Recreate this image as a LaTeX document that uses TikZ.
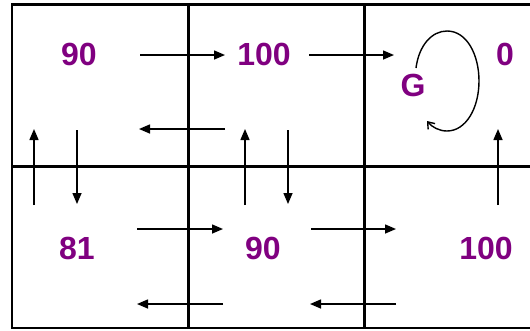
\documentclass[tikz,border=0pt]{standalone}
\usepackage{fontspec}
\setmainfont{Liberation Sans}
\usetikzlibrary{arrows.meta}
\definecolor{val}{HTML}{800080}
\begin{document}
\begin{tikzpicture}[x=1pt,y=-1pt,
  grid/.style={line width=2.6pt},
  mv/.style={line width=1.5pt,-{Triangle[length=11pt,width=9pt]}},
  loop/.style={line width=1.4pt,-{Straight Barb[length=6pt,width=9pt]}},
  lbl/.style={inner sep=0pt,text=val,font=\fontsize{32}{36}\selectfont\bfseries}]
\useasboundingbox (0,0) rectangle (530,330);
% grid
\coordinate (tl) at (12,4.5);
\coordinate (tr) at (531,4.5);
\coordinate (bl) at (12,328);
\coordinate (br) at (531,328);
\coordinate (ml) at (12,166.5);
\coordinate (mr) at (531,166.5);
\coordinate (v1t) at (188.5,4.5);
\coordinate (v1b) at (188.5,328);
\coordinate (v2t) at (364.5,4.5);
\coordinate (v2b) at (364.5,328);
\draw[grid] (tr) -- (tl) -- (bl) -- (br);
\draw[grid] (ml) -- (mr);
\draw[grid] (v1t) -- (v1b);
\draw[grid] (v2t) -- (v2b);
% labels
\node[lbl] (a) at (79,54) {90};
\node[lbl] (b) at (264,54) {100};
\node[lbl] (c) at (505,54) {0};
\node[lbl] (g) at (413,85) {G};
\node[lbl] (d) at (77,248) {81};
\node[lbl] (e) at (263,248) {90};
\node[lbl] (f) at (486,248) {100};
% arrow end points
\coordinate (r1s) at (140,55); \coordinate (r1e) at (225,55);
\coordinate (r2s) at (309,55); \coordinate (r2e) at (394,55);
\coordinate (l1s) at (225,129); \coordinate (l1e) at (139,129);
\coordinate (u1s) at (34,205); \coordinate (u1e) at (34,129);
\coordinate (d1s) at (77,130); \coordinate (d1e) at (77,204);
\coordinate (u2s) at (245,205); \coordinate (u2e) at (245,129);
\coordinate (d2s) at (288,130); \coordinate (d2e) at (288,204);
\coordinate (u3s) at (498,205); \coordinate (u3e) at (498,129);
\coordinate (r3s) at (137,229); \coordinate (r3e) at (223,229);
\coordinate (r4s) at (311,229); \coordinate (r4e) at (396,229);
\coordinate (l2s) at (223,304); \coordinate (l2e) at (137,304);
\coordinate (l3s) at (396,304); \coordinate (l3e) at (310,304);
\foreach \p in {r1,r2,l1,u1,d1,u2,d2,u3,r3,r4,l2,l3}
  \draw[mv] (\p s) -- (\p e);
% loop
\coordinate (gs) at (416,68);
\coordinate (gt) at (447,31);
\coordinate (gr) at (479,81);
\coordinate (gb) at (447,131);
\coordinate (ge) at (427,121);
\draw[loop] (gs) .. controls (419,45) and (432,31) .. (gt)
  .. controls (467,31) and (479,55) .. (gr)
  .. controls (479,108) and (466,131) .. (gb)
  .. controls (439,131) and (432,127) .. (ge);
\end{tikzpicture}
\end{document}
